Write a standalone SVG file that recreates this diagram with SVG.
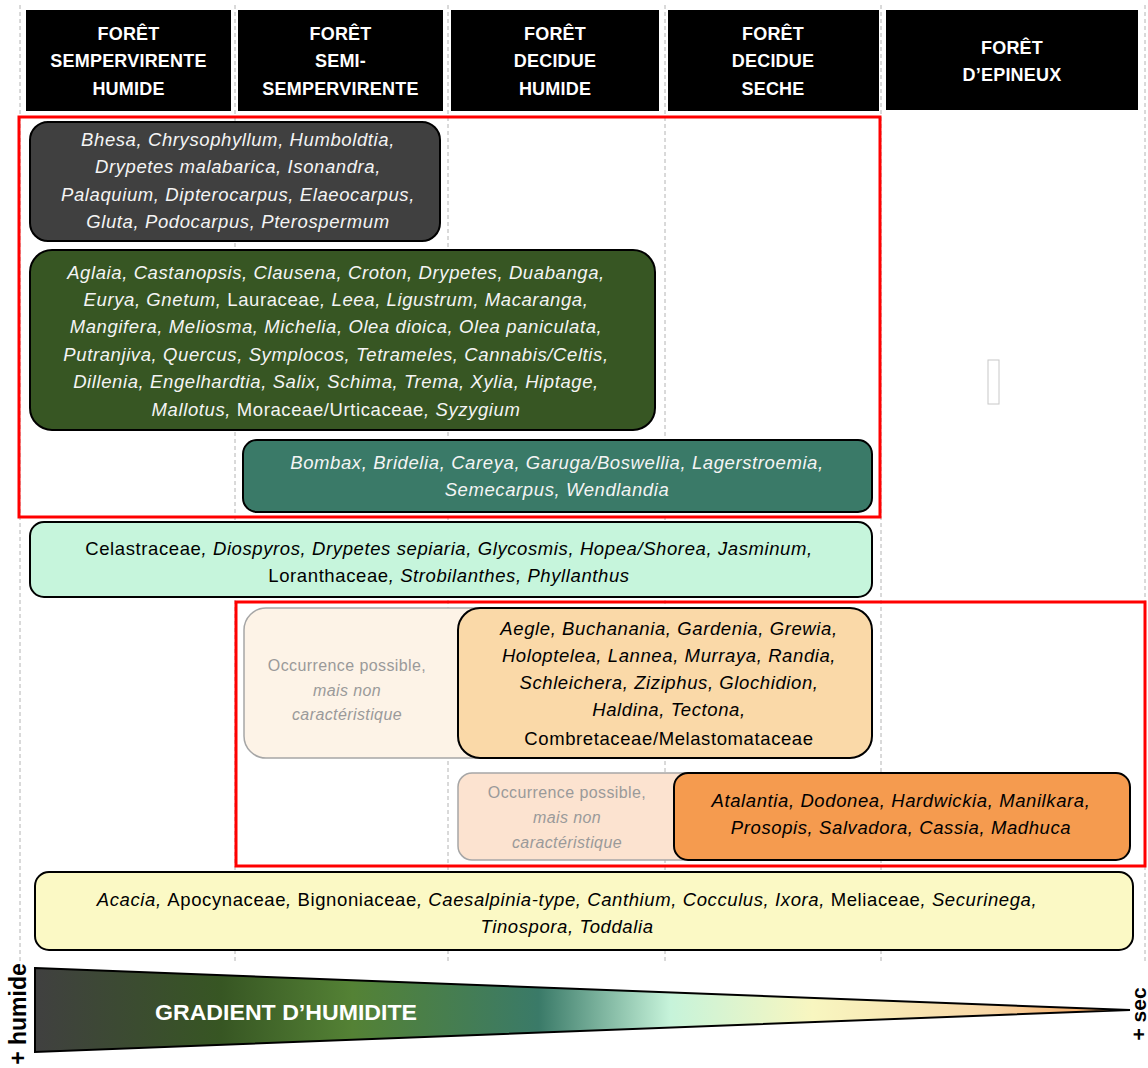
<svg xmlns="http://www.w3.org/2000/svg" width="1148" height="1068" viewBox="0 0 1148 1068">
<defs>
<style>
text{font-family:"Liberation Sans",Arial,sans-serif;text-anchor:middle}
.hd{fill:#000}
.ht{fill:#fff;font-weight:bold;font-size:18px;letter-spacing:0.2px}
.bx{stroke:#000;stroke-width:2}
.fd{stroke:#a6a6a6;stroke-width:1.5}
.t{font-size:18.5px;font-style:italic;letter-spacing:0.6px}
.n{font-style:normal}
.w{fill:#f4f4f4}
.k{fill:#000}
.g{fill:#9a9a9a;font-size:16px;letter-spacing:0.4px}
.gi{font-style:italic}
.dash{stroke:#b4b4b4;stroke-width:1;stroke-dasharray:4 3;fill:none}
.red{fill:none;stroke:#ff0000;stroke-width:3}
</style>
<linearGradient id="grad" x1="35" y1="0" x2="1130" y2="0" gradientUnits="userSpaceOnUse">
<stop offset="0" stop-color="#404040"/>
<stop offset="0.17" stop-color="#375623"/>
<stop offset="0.29" stop-color="#548235"/>
<stop offset="0.46" stop-color="#3a7a68"/>
<stop offset="0.58" stop-color="#c6f3da"/>
<stop offset="0.71" stop-color="#f8f6c0"/>
<stop offset="0.87" stop-color="#f8d8a8"/>
<stop offset="1" stop-color="#f4994c"/>
</linearGradient>
</defs>
<rect width="1148" height="1068" fill="#fff"/>
<g id="grid">
<line class="dash" x1="20" y1="5" x2="20" y2="962"/>
<line class="dash" x1="235" y1="5" x2="235" y2="962"/>
<line class="dash" x1="448" y1="5" x2="448" y2="962"/>
<line class="dash" x1="665" y1="5" x2="665" y2="962"/>
<line class="dash" x1="881" y1="5" x2="881" y2="962"/>
<line class="dash" x1="1145" y1="5" x2="1145" y2="962"/>
</g>
<g id="headers">
<g id="h1"><rect class="hd" x="26" y="10" width="205" height="101"/>
<text class="ht" x="128.5" y="40">FORÊT</text><text class="ht" x="128.5" y="67">SEMPERVIRENTE</text><text class="ht" x="128.5" y="95">HUMIDE</text></g>
<g id="h2"><rect class="hd" x="238" y="10" width="205" height="101"/>
<text class="ht" x="340.5" y="40">FORÊT</text><text class="ht" x="340.5" y="67">SEMI-</text><text class="ht" x="340.5" y="95">SEMPERVIRENTE</text></g>
<g id="h3"><rect class="hd" x="451" y="10" width="208" height="101"/>
<text class="ht" x="555" y="40">FORÊT</text><text class="ht" x="555" y="67">DECIDUE</text><text class="ht" x="555" y="95">HUMIDE</text></g>
<g id="h4"><rect class="hd" x="668" y="10" width="211" height="101"/>
<text class="ht" x="773" y="40">FORÊT</text><text class="ht" x="773" y="67">DECIDUE</text><text class="ht" x="773" y="95">SECHE</text></g>
<g id="h5"><rect class="hd" x="886" y="10" width="252" height="100"/>
<text class="ht" x="1012" y="54">FORÊT</text><text class="ht" x="1012" y="81">D’EPINEUX</text></g>
</g>
<g id="frames">
<rect class="red" x="19" y="117" width="861" height="400"/>
<rect class="red" x="236" y="602" width="909" height="264"/>
</g>
<g id="box-evergreen">
<rect class="bx" x="30" y="122" width="410" height="119" rx="18" fill="#404040"/>
<text class="t w" x="238" y="146">Bhesa, Chrysophyllum, Humboldtia,</text>
<text class="t w" x="238" y="173">Drypetes malabarica, Isonandra,</text>
<text class="t w" x="238" y="201">Palaquium, Dipterocarpus, Elaeocarpus,</text>
<text class="t w" x="238" y="228">Gluta, Podocarpus, Pterospermum</text>
</g>
<g id="box-green">
<rect class="bx" x="30" y="250" width="625" height="180" rx="22" fill="#375623"/>
<text class="t w" x="336" y="279">Aglaia, Castanopsis, Clausena, Croton, Drypetes, Duabanga,</text>
<text class="t w" x="336" y="306">Eurya, Gnetum, <tspan class="n">Lauraceae</tspan>, Leea, Ligustrum, Macaranga,</text>
<text class="t w" x="336" y="333">Mangifera, Meliosma, Michelia, Olea dioica, Olea paniculata,</text>
<text class="t w" x="336" y="361">Putranjiva, Quercus, Symplocos, Tetrameles, Cannabis/Celtis,</text>
<text class="t w" x="336" y="388">Dillenia, Engelhardtia, Salix, Schima, Trema, Xylia, Hiptage,</text>
<text class="t w" x="336" y="416">Mallotus, <tspan class="n">Moraceae/Urticaceae</tspan>, Syzygium</text>
</g>
<g id="box-teal">
<rect class="bx" x="243" y="440" width="629" height="72" rx="14" fill="#3a7a68"/>
<text class="t w" x="557" y="469">Bombax, Bridelia, Careya, Garuga/Boswellia, Lagerstroemia,</text>
<text class="t w" x="557" y="496">Semecarpus, Wendlandia</text>
</g>
<g id="box-mint">
<rect class="bx" x="30" y="522" width="842" height="75" rx="14" fill="#c6f5dc"/>
<text class="t k" x="449" y="555"><tspan class="n">Celastraceae</tspan>, Diospyros, Drypetes sepiaria, Glycosmis, Hopea/Shorea, Jasminum,</text>
<text class="t k" x="449" y="582"><tspan class="n">Loranthaceae</tspan>, Strobilanthes, Phyllanthus</text>
</g>
<g id="box-faded1">
<rect class="fd" x="244" y="608" width="370" height="150" rx="22" fill="#fdf3e7"/>
<text class="g" x="347" y="671">Occurrence possible,</text>
<text class="g gi" x="347" y="696">mais non</text>
<text class="g gi" x="347" y="720">caractéristique</text>
</g>
<g id="box-tan">
<rect class="bx" x="458" y="608" width="414" height="150" rx="22" fill="#fad9a8"/>
<text class="t k" x="669" y="635">Aegle, Buchanania, Gardenia, Grewia,</text>
<text class="t k" x="669" y="662">Holoptelea, Lannea, Murraya, Randia,</text>
<text class="t k" x="669" y="689">Schleichera, Ziziphus, Glochidion,</text>
<text class="t k" x="669" y="716">Haldina, Tectona,</text>
<text class="t k n" x="669" y="745">Combretaceae/Melastomataceae</text>
</g>
<g id="box-faded2">
<rect class="fd" x="458" y="773" width="260" height="87" rx="14" fill="#fce3d0"/>
<text class="g" x="567" y="798">Occurrence possible,</text>
<text class="g gi" x="567" y="823">mais non</text>
<text class="g gi" x="567" y="848">caractéristique</text>
</g>
<g id="box-orange">
<rect class="bx" x="674" y="773" width="456" height="87" rx="14" fill="#f59b4f"/>
<text class="t k" x="901" y="807">Atalantia, Dodonea, Hardwickia, Manilkara,</text>
<text class="t k" x="901" y="834">Prosopis, Salvadora, Cassia, Madhuca</text>
</g>
<g id="box-yellow">
<rect class="bx" x="35" y="872" width="1098" height="78" rx="14" fill="#fbf9c5"/>
<text class="t k" x="567" y="906">Acacia, <tspan class="n">Apocynaceae</tspan>, <tspan class="n">Bignoniaceae</tspan>, Caesalpinia-type, Canthium, Cocculus, Ixora, <tspan class="n">Meliaceae</tspan>, Securinega,</text>
<text class="t k" x="567" y="933">Tinospora, Toddalia</text>
</g>
<g id="small-rect">
<rect x="988" y="360" width="11" height="44" fill="#fff" stroke="#c8c8c8" stroke-width="1"/>
</g>
<g id="gradient">
<polygon points="35,968 1130,1010 35,1052" fill="url(#grad)" stroke="#000" stroke-width="2"/>
<text x="286" y="1020" textLength="262" lengthAdjust="spacingAndGlyphs" style="font-weight:bold;font-size:22px;fill:#fff">GRADIENT D’HUMIDITE</text>
<text transform="translate(26,1014) rotate(-90)" style="font-weight:bold;font-size:23px;fill:#000">+ humide</text>
<text transform="translate(1146,1014) rotate(-90)" style="font-weight:bold;font-size:21px;fill:#000">+ sec</text>
</g>
</svg>
